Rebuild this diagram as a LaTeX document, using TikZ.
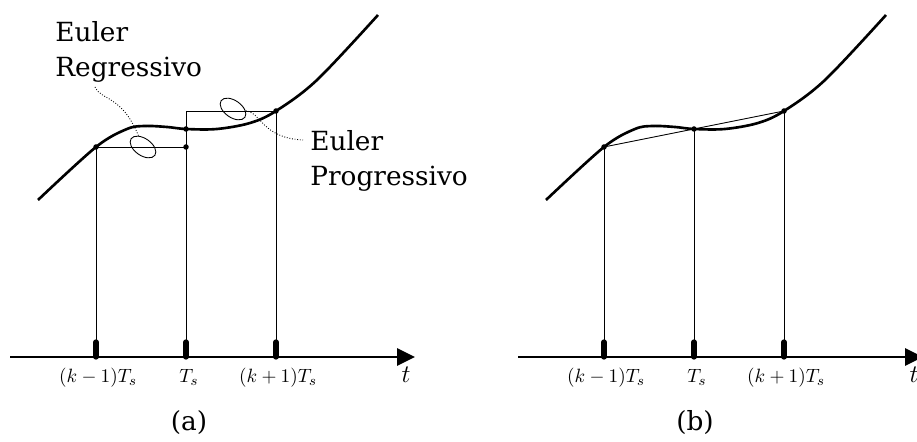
\documentclass[tikz,border=0pt]{standalone}
\usepackage{fontspec}
\setmainfont{DejaVu Serif}
\usetikzlibrary{arrows.meta, shapes.geometric}

\begin{document}
\begin{tikzpicture}[
    x=0.02cm, y=0.02cm,
    curve/.style={line width=1.5pt},
    guide/.style={line width=0.5pt},
    axis/.style={line width=1.6pt, -{Triangle[length=0.36cm, width=0.34cm]}},
    stub/.style={line width=3pt, line cap=round},
    dot/.style={circle, fill, inner sep=0pt, minimum size=0.11cm},
    loop/.style={draw, ellipse, rotate=-35, minimum width=0.58cm, minimum height=0.34cm, inner sep=0pt, line width=0.5pt},
    leader/.style={densely dotted, line width=0.5pt},
    label/.style={font=\fontsize{15}{20.4}\selectfont, inner sep=0pt},
    tlabel/.style={font=\fontsize{11}{12}\selectfont, anchor=base, inner sep=0pt}
]
\useasboundingbox (0,0) rectangle (917,442);
\clip (0,0) rectangle (917,442);

% (a) Euler regressivo / progressivo
\draw[curve] plot[smooth, tension=0.55] coordinates {(38,242) (96,295) (127,313) (145,316) (167,315) (186,313) (217,313) (250,319) (276,331) (317,362) (378,427)};
\node[dot] (km1_a) at (96,295) {};
\node[dot] (k_a) at (186,313) {};
\node[dot] (k_low_a) at (186,295) {};
\node[dot] (kp1_a) at (276,331) {};
\coordinate (k_top_a) at (186,331);
\coordinate (tick_km1_a) at (96,85);
\coordinate (tick_k_a) at (186,85);
\coordinate (tick_kp1_a) at (276,85);
\coordinate (axis_start_a) at (10,85);
\coordinate (axis_end_a) at (415,85);

\draw[guide] (tick_km1_a) -- (km1_a.center) -- (k_low_a.center);
\draw[guide] (tick_k_a) -- (k_top_a) -- (kp1_a.center);
\draw[guide] (tick_kp1_a) -- (kp1_a.center);
\draw[axis] (axis_start_a) -- (axis_end_a);
\draw[stub] (tick_km1_a) -- ++(0,15);
\draw[stub] (tick_k_a) -- ++(0,15);
\draw[stub] (tick_kp1_a) -- ++(0,15);

\node[loop] (reg_mark) at (143,295) {};
\node[loop] (prog_mark) at (233,333) {};
\node[label, anchor=base west, align=left] (reg_label) at (55,365) {Euler\\Regressivo};
\node[label, anchor=base west, align=left] (prog_label) at (310,256) {Euler\\Progressivo};
\coordinate (reg_start) at (95,355);
\coordinate (prog_end) at (303,302);
\draw[leader] (reg_start) .. controls (100,342) and (122,347) .. (reg_mark);
\draw[leader] (prog_mark) .. controls (262,329) and (262,304) .. (prog_end);

\node[tlabel] (lbl_km1_a) at (98,59) {$(k-1)T_s$};
\node[tlabel] (lbl_k_a) at (189,59) {$T_s$};
\node[tlabel] (lbl_kp1_a) at (278,59) {$(k+1)T_s$};
\node[anchor=base, inner sep=0pt, font=\fontsize{15}{16}\selectfont] (t_a) at (406,59) {$t$};
\node[label] (cap_a) at (189,19) {(a)};

% (b) trapezoidal
\begin{scope}[shift={(508,0)}]
\draw[curve] plot[smooth, tension=0.55] coordinates {(38,242) (96,295) (127,313) (145,316) (167,315) (186,313) (217,313) (250,319) (276,331) (317,362) (378,427)};
\node[dot] (km1_b) at (96,295) {};
\node[dot] (k_b) at (186,313) {};
\node[dot] (kp1_b) at (276,331) {};
\coordinate (tick_km1_b) at (96,85);
\coordinate (tick_k_b) at (186,85);
\coordinate (tick_kp1_b) at (276,85);
\coordinate (axis_start_b) at (10,85);
\coordinate (axis_end_b) at (415,85);

\draw[guide] (km1_b.center) -- (k_b.center) -- (kp1_b.center);
\draw[guide] (tick_km1_b) -- (km1_b.center);
\draw[guide] (tick_k_b) -- (k_b.center);
\draw[guide] (tick_kp1_b) -- (kp1_b.center);
\draw[axis] (axis_start_b) -- (axis_end_b);
\draw[stub] (tick_km1_b) -- ++(0,15);
\draw[stub] (tick_k_b) -- ++(0,15);
\draw[stub] (tick_kp1_b) -- ++(0,15);

\node[tlabel] (lbl_km1_b) at (98,59) {$(k-1)T_s$};
\node[tlabel] (lbl_k_b) at (189,59) {$T_s$};
\node[tlabel] (lbl_kp1_b) at (278,59) {$(k+1)T_s$};
\node[anchor=base, inner sep=0pt, font=\fontsize{15}{16}\selectfont] (t_b) at (406,59) {$t$};
\node[label] (cap_b) at (187,19) {(b)};
\end{scope}
\end{tikzpicture}
\end{document}
